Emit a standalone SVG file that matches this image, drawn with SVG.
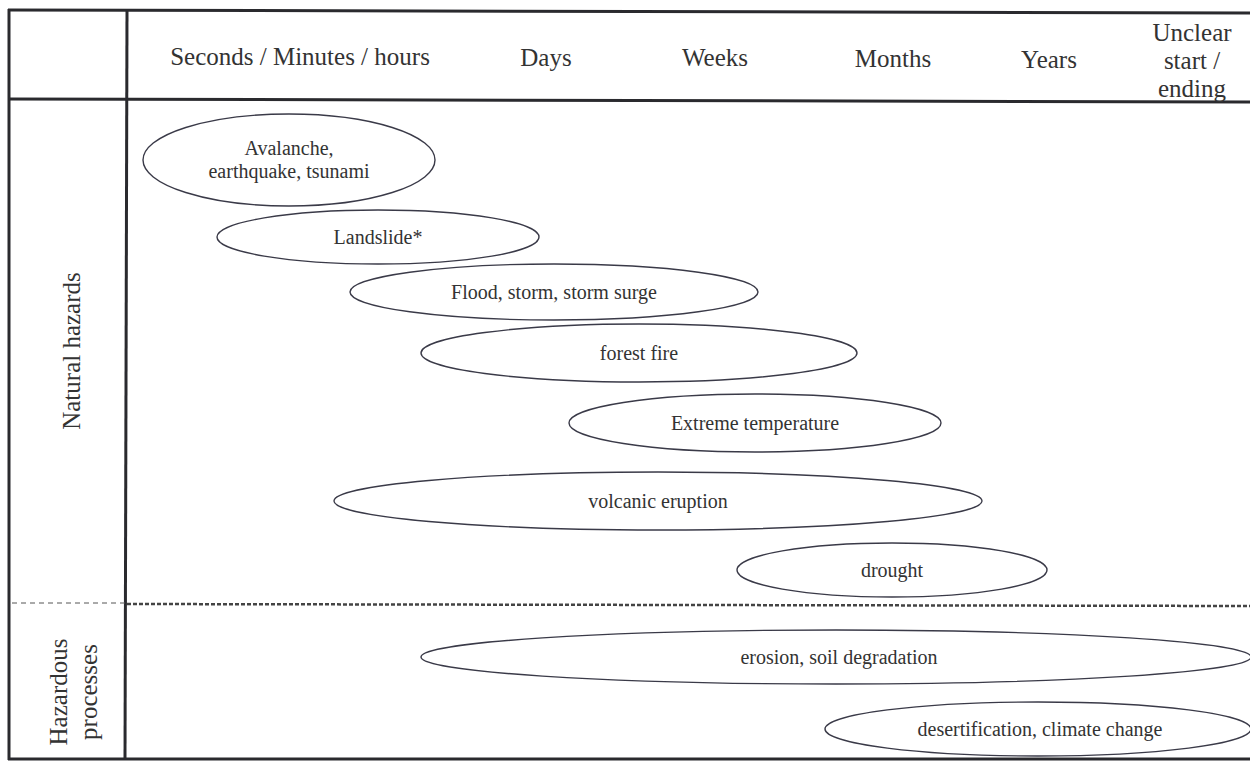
<svg xmlns="http://www.w3.org/2000/svg" width="1250" height="762" viewBox="0 0 1250 762">
<style>
.frame{fill:none;stroke:#2a2a2e;stroke-width:3}
.ell{fill:none;stroke:#3a3a48;stroke-width:1.4}
.hdr{font-size:25px;fill:#333;text-anchor:middle}
.lbl{font-size:20px;fill:#333;text-anchor:middle}
.side{font-size:25px;fill:#333;text-anchor:middle}
</style>
<rect width="1250" height="762" fill="#fff"/>
<g id="grid">
<line class="frame" x1="8" y1="10" x2="1250" y2="13"/>
<line class="frame" x1="9" y1="9" x2="9" y2="760"/>
<line class="frame" x1="8" y1="759" x2="1250" y2="759"/>
<line class="frame" x1="127" y1="10" x2="125" y2="760"/>
<line class="frame" x1="8" y1="99" x2="1250" y2="102"/>
<line x1="12" y1="603" x2="127" y2="603" stroke="#555" stroke-width="1" stroke-dasharray="5,4"/>
<line x1="127" y1="604" x2="1250" y2="606" stroke="#444" stroke-width="2.5" stroke-dasharray="4,2"/>
</g>
<g font-family="Liberation Serif, Times New Roman, serif">
<g id="header">
<text class="hdr" x="300" y="65">Seconds / Minutes / hours</text>
<text class="hdr" x="546" y="66">Days</text>
<text class="hdr" x="715" y="66">Weeks</text>
<text class="hdr" x="893" y="67">Months</text>
<text class="hdr" x="1049" y="68">Years</text>
<text class="hdr" x="1192" y="41">Unclear</text>
<text class="hdr" x="1192" y="69">start /</text>
<text class="hdr" x="1192" y="97">ending</text>
</g>
<g id="rows">
<text class="side" transform="translate(80,351) rotate(-90)">Natural hazards</text>
<text class="side" transform="translate(67,692) rotate(-90)">Hazardous</text>
<text class="side" transform="translate(97,692) rotate(-90)">processes</text>
</g>
<g id="n1"><ellipse class="ell" cx="289" cy="160" rx="146" ry="46"/><text class="lbl" x="289" y="155">Avalanche,</text><text class="lbl" x="289" y="178">earthquake, tsunami</text></g>
<g id="n2"><ellipse class="ell" cx="378" cy="237" rx="161" ry="27"/><text class="lbl" x="378" y="244">Landslide*</text></g>
<g id="n3"><ellipse class="ell" cx="554" cy="292" rx="204" ry="28"/><text class="lbl" x="554" y="299">Flood, storm, storm surge</text></g>
<g id="n4"><ellipse class="ell" cx="639" cy="353" rx="218" ry="29"/><text class="lbl" x="639" y="360">forest fire</text></g>
<g id="n5"><ellipse class="ell" cx="755" cy="423" rx="186" ry="29"/><text class="lbl" x="755" y="430">Extreme temperature</text></g>
<g id="n6"><ellipse class="ell" cx="658" cy="501" rx="324" ry="29"/><text class="lbl" x="658" y="508">volcanic eruption</text></g>
<g id="n7"><ellipse class="ell" cx="892" cy="570" rx="155" ry="27"/><text class="lbl" x="892" y="577">drought</text></g>
<g id="n8"><ellipse class="ell" cx="836" cy="657" rx="415" ry="27"/><text class="lbl" x="839" y="664">erosion, soil degradation</text></g>
<g id="n9"><ellipse class="ell" cx="1038" cy="729" rx="213" ry="27"/><text class="lbl" x="1040" y="736">desertification, climate change</text></g>
</g>
<g id="connectors"></g>
</svg>
